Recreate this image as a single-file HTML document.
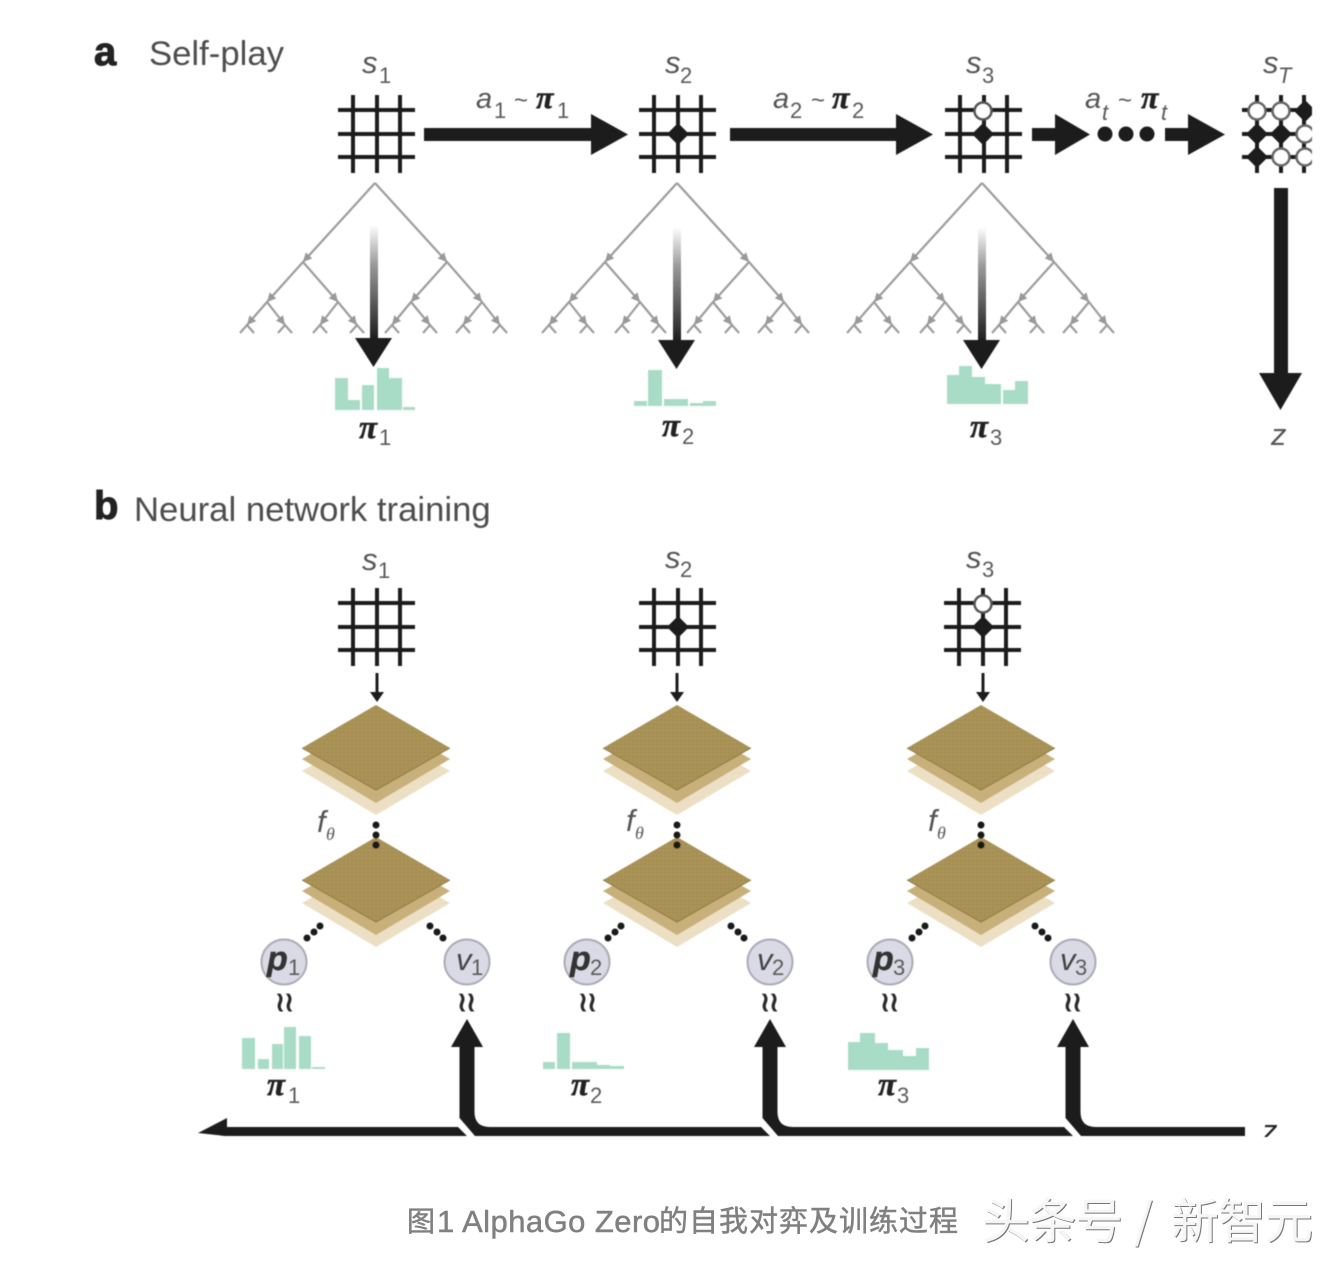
<!DOCTYPE html>
<html><head><meta charset="utf-8"><style>
html,body{margin:0;padding:0;background:#fff;width:1342px;height:1262px;overflow:hidden}
svg{display:block}
text{font-family:"Liberation Sans","Noto Sans CJK SC",sans-serif;fill:#555}
.i{font-style:italic;font-size:31px}
.sub{font-size:22px;fill:#5a5a5a}
.pi{font-family:"Liberation Serif",serif;font-style:italic;font-weight:bold;font-size:33px;fill:#222;stroke:#222;stroke-width:.5}
.h{font-size:40px;font-weight:bold;fill:#222;stroke:#222;stroke-width:1}
.t{font-size:34.7px;fill:#4d4d4d}
.p{font-style:italic;font-weight:bold;font-size:34px;fill:#333;stroke:#333;stroke-width:.4}
.v{font-style:italic;font-size:31px;fill:#444}
.w{font-family:"DejaVu Sans",sans-serif;font-size:27px;fill:#2a2a2a;stroke:#2a2a2a;stroke-width:1;text-anchor:middle}
.cap{font-size:31px;fill:#808080;stroke:#808080;stroke-width:.5}
.wm{font-size:48px;fill:#f6f6f6;filter:drop-shadow(1.2px 1.2px 0 #777);font-family:"WenQuanYi Zen Hei","Noto Sans CJK SC",sans-serif}
</style></head><body>
<svg width="1342" height="1262" viewBox="0 0 1342 1262" xmlns="http://www.w3.org/2000/svg">
<defs>
<linearGradient id="fade" x1="0" y1="0" x2="0" y2="1"><stop offset="0" stop-color="#fff"/><stop offset=".35" stop-color="#999"/><stop offset="1" stop-color="#1c1c1c"/></linearGradient>
<marker id="m" markerUnits="userSpaceOnUse" markerWidth="11" markerHeight="11" refX="9" refY="5.5" orient="auto"><path d="M0 1L9 5.5L0 10Z" fill="#999"/></marker>
<g id="board" stroke="#1c1c1c" stroke-width="4" fill="none">
<path d="M-24-39V39M0-39V39M23-39V39M-39-24H38M-39 0H38M-39 23H38"/>
</g>
<path id="blk" d="M-11 0L0-11L11 0L0 11Z" fill="#1c1c1c"/>
<g id="tree" stroke="#9c9c9c" stroke-width="2.2" fill="none">
<path d="M375 183L303 262" marker-end="url(#m)"/><path d="M375 183L447 262" marker-end="url(#m)"/>
<path d="M303 262L267 302" marker-end="url(#m)"/><path d="M303 262L338 302" marker-end="url(#m)"/>
<path d="M447 262L411 302" marker-end="url(#m)"/><path d="M447 262L482 302" marker-end="url(#m)"/>
<path d="M267 302L247 325" marker-end="url(#m)"/><path d="M267 302L285 325" marker-end="url(#m)"/>
<path d="M338 302L320 325" marker-end="url(#m)"/><path d="M338 302L357 325" marker-end="url(#m)"/>
<path d="M411 302L392 325" marker-end="url(#m)"/><path d="M411 302L430 325" marker-end="url(#m)"/>
<path d="M482 302L463 325" marker-end="url(#m)"/><path d="M482 302L500 325" marker-end="url(#m)"/>
<path d="M240 333L247 325L254 333M278 333L285 325L292 333M313 333L320 325L327 333M350 333L357 325L364 333M385 333L392 325L399 333M423 333L430 325L437 333M456 333L463 325L470 333M493 333L500 325L507 333"/>
</g>
<g id="bigdown">
<rect x="370" y="225" width="8" height="114" fill="url(#fade)"/>
<path d="M355 338H392L373.5 367Z" fill="#1c1c1c"/>
</g>
<pattern id="grid" width="4" height="4" patternUnits="userSpaceOnUse"><rect width="4" height="4" fill="#ab9458"/><path d="M0 0H4M0 0V4" stroke="#9d864c" stroke-width=".7"/></pattern>
<g id="stack">
<path d="M302 771L376 729L450 771L376 815Z" fill="#ecdfc4"/>
<path d="M302 759L376 717L450 759L376 803Z" fill="#c8b07a"/>
<path d="M302 748L376 705L450 748L376 790Z" fill="url(#grid)"/>
<path d="M302 748L376 790L450 748" fill="none" stroke="#8f7a42" stroke-width="1"/>
</g>
<g id="dots" fill="#1a1a1a">
<circle cx="376" cy="825" r="3.5"/><circle cx="376" cy="835" r="3.5"/><circle cx="376" cy="845" r="3.5"/>
<circle cx="320" cy="926" r="3.5"/><circle cx="314" cy="932" r="3.5"/><circle cx="307" cy="938" r="3.5"/>
<circle cx="430" cy="926" r="3.5"/><circle cx="437" cy="932" r="3.5"/><circle cx="443" cy="938" r="3.5"/>
</g>
<path id="smalldown" d="M375.5 673H378.5V692H384L377 702L370 692H375.5Z" fill="#1c1c1c"/>
<clipPath id="c1"><rect x="1230" y="80" width="82" height="110"/></clipPath>
<clipPath id="c2"><rect x="1250" y="1100" width="40" height="37"/></clipPath>
</defs>

<g style="filter:blur(.5px)">
<!-- Section a -->
<text class="h" x="94" y="65">a</text>
<text class="t" x="149" y="65">Self-play</text>

<text class="i" x="362" y="73">s</text><text class="sub" x="379" y="83">1</text>
<text class="i" x="665" y="73">s</text><text class="sub" x="680" y="83">2</text>
<text class="i" x="966" y="73">s</text><text class="sub" x="982" y="83">3</text>
<text class="i" x="1263" y="73">s</text><text class="sub" x="1278" y="83" font-style="italic">T</text>

<use href="#board" x="377" y="134"/>
<use href="#board" x="678" y="134"/>
<use href="#board" x="984" y="134"/>
<use href="#blk" x="678" y="134"/>
<circle cx="983" cy="111" r="8.5" fill="#fff" stroke="#555" stroke-width="2.5"/>
<use href="#blk" x="983" y="134"/>

<g clip-path="url(#c1)">
<use href="#board" x="1281" y="134"/>
<use href="#blk" x="1305" y="111"/><use href="#blk" x="1257" y="134"/><use href="#blk" x="1281" y="134"/><use href="#blk" x="1257" y="157"/>
<g fill="#fff" stroke="#666" stroke-width="2.5"><circle cx="1257" cy="111" r="8.5"/><circle cx="1281" cy="111" r="8.5"/><circle cx="1305" cy="134" r="8.5"/><circle cx="1281" cy="157" r="8.5"/><circle cx="1305" cy="157" r="8.5"/></g>
</g>

<!-- Big arrows -->
<g fill="#1c1c1c">
<path d="M424 128H591V114L628 134.5L591 155V141H424Z"/>
<path d="M730 128H896V114L933 134.5L896 155V141H730Z"/>
<path d="M1032 128H1055V114L1090 134.5L1055 155V141H1032Z"/>
<path d="M1165 128H1188V114L1225 134.5L1188 155V141H1165Z"/>
<circle cx="1105" cy="134" r="7.5"/><circle cx="1126" cy="134" r="7.5"/><circle cx="1147" cy="134" r="7.5"/>
<path d="M1274 188H1288V373H1302L1280.5 410L1259 373H1274Z"/>
</g>

<text class="i" x="476" y="108" style="font-size:29px">a</text><text class="sub" x="494" y="118">1</text><text x="514" y="108" style="font-size:24px">~</text><text class="pi" x="536" y="108" style="font-size:32px">π</text><text class="sub" x="557" y="118">1</text>
<text class="i" x="773" y="108" style="font-size:29px">a</text><text class="sub" x="790" y="118">2</text><text x="811" y="108" style="font-size:24px">~</text><text class="pi" x="832" y="108" style="font-size:32px">π</text><text class="sub" x="852" y="118">2</text>
<text class="i" x="1085" y="108" style="font-size:29px">a</text><text class="sub" x="1102" y="120" font-style="italic">t</text><text x="1118" y="108" style="font-size:24px">~</text><text class="pi" x="1141" y="108" style="font-size:32px">π</text><text class="sub" x="1161" y="120" font-style="italic">t</text>

<!-- Trees -->
<use href="#tree"/><use href="#tree" x="302"/><use href="#tree" x="607"/>
<use href="#bigdown"/><use href="#bigdown" x="303" y="2"/><use href="#bigdown" x="608" y="2"/>

<!-- Histograms -->
<g fill="#a9dcc6">
<path d="M335 378H348V410H335ZM348 400H360V410H348ZM362 385H374V410H362ZM377 368H389V410H377ZM389 378H402V410H389ZM403 407H415V410H403Z"/>
<path d="M634 401H647V406H634ZM648 370H662V406H648ZM664 399H676V406H664ZM676 399H688V406H676ZM690 403H703V406H690ZM703 401H716V406H703Z"/>
<path d="M947 375H959V404H947ZM959 366H972V404H959ZM972 377H985V404H972ZM985 384H1001V404H985ZM1003 390H1015V404H1003ZM1015 381H1028V404H1015Z"/>
<path d="M242 1038H255V1069H242ZM258 1059H269V1069H258ZM272 1044H283V1069H272ZM284 1027H296V1069H284ZM299 1036H311V1069H299ZM312 1067H325V1069H312Z"/>
<path d="M543 1062H555V1069H543ZM557 1033H570V1069H557ZM572 1062H585V1069H572ZM585 1062H597V1069H585ZM597 1065H610V1069H597ZM610 1066H624V1069H610Z"/>
<path d="M848 1042H860V1070H848ZM860 1033H875V1070H860ZM875 1043H888V1070H875ZM888 1050H903V1070H888ZM903 1056H916V1070H903ZM916 1048H929V1070H916Z"/>
</g>

<text class="pi" x="359" y="438">π</text><text class="sub" x="379" y="445">1</text>
<text class="pi" x="662" y="436">π</text><text class="sub" x="682" y="444">2</text>
<text class="pi" x="970" y="437">π</text><text class="sub" x="990" y="445">3</text>
<text class="i" x="1271" y="445">z</text>

<!-- Section b -->
<text class="h" x="94" y="519">b</text>
<text class="t" x="134" y="521">Neural network training</text>

<text class="i" x="362" y="570">s</text><text class="sub" x="378" y="578">1</text>
<text class="i" x="665" y="568">s</text><text class="sub" x="680" y="577">2</text>
<text class="i" x="966" y="568">s</text><text class="sub" x="982" y="577">3</text>

<use href="#board" x="377" y="627"/>
<use href="#board" x="678" y="627"/>
<use href="#board" x="983" y="627"/>
<use href="#blk" x="678" y="627"/>
<circle cx="983" cy="604" r="8.5" fill="#fff" stroke="#555" stroke-width="2.5"/>
<use href="#blk" x="983" y="627"/>

<use href="#smalldown"/><use href="#smalldown" x="300"/><use href="#smalldown" x="606"/>

<use href="#stack"/><use href="#stack" y="132"/>
<use href="#stack" x="301"/><use href="#stack" x="301" y="132"/>
<use href="#stack" x="605"/><use href="#stack" x="605" y="132"/>
<use href="#dots"/><use href="#dots" x="301"/><use href="#dots" x="605"/>

<text class="i" x="317" y="832">f</text><text class="sub" x="326" y="840" font-style="italic" style="font-size:18px;font-family:'Liberation Serif',serif">θ</text>
<text class="i" x="626" y="831">f</text><text class="sub" x="635" y="839" font-style="italic" style="font-size:18px;font-family:'Liberation Serif',serif">θ</text>
<text class="i" x="928" y="831">f</text><text class="sub" x="937" y="839" font-style="italic" style="font-size:18px;font-family:'Liberation Serif',serif">θ</text>

<g fill="#dadae6" stroke="#ababb5" stroke-width="2">
<circle cx="284" cy="962" r="22.5"/><circle cx="467" cy="962" r="22.5"/>
<circle cx="587" cy="962" r="22.5"/><circle cx="770" cy="962" r="22.5"/>
<circle cx="890" cy="962" r="22.5"/><circle cx="1073" cy="962" r="22.5"/>
</g>
<text class="p" x="267" y="970">p</text><text class="sub" x="288" y="975">1</text>
<text class="v" x="456" y="970">v</text><text class="sub" x="471" y="975">1</text>
<text class="p" x="570" y="970">p</text><text class="sub" x="590" y="975">2</text>
<text class="v" x="757" y="970">v</text><text class="sub" x="772" y="975">2</text>
<text class="p" x="873" y="970">p</text><text class="sub" x="893" y="975">3</text>
<text class="v" x="1060" y="970">v</text><text class="sub" x="1075" y="975">3</text>

<text class="w" x="280" y="1011">≀</text><text class="w" x="289" y="1011">≀</text>
<text class="w" x="462" y="1011">≀</text><text class="w" x="471" y="1011">≀</text>
<text class="w" x="583" y="1011">≀</text><text class="w" x="592" y="1011">≀</text>
<text class="w" x="765" y="1011">≀</text><text class="w" x="774" y="1011">≀</text>
<text class="w" x="885" y="1011">≀</text><text class="w" x="894" y="1011">≀</text>
<text class="w" x="1068" y="1011">≀</text><text class="w" x="1077" y="1011">≀</text>

<text class="pi" x="267" y="1095">π</text><text class="sub" x="288" y="1103">1</text>
<text class="pi" x="571" y="1095">π</text><text class="sub" x="590" y="1103">2</text>
<text class="pi" x="878" y="1095">π</text><text class="sub" x="897" y="1103">3</text>

<!-- Bottom arrows -->
<g fill="#1c1c1c">
<path d="M198 1133L227 1118V1127H458L467 1136H225Z"/>
<path d="M459.5 1047V1118L475 1136H770L761 1127H490Q474.5 1127 474.5 1112V1047H483L467 1019L451 1047Z"/>
<path d="M762.5 1047V1118L778 1136H1073L1064 1127H793Q777.5 1127 777.5 1112V1047H786L770 1019L754 1047Z"/>
<path d="M1065.5 1047V1118L1081 1136H1245V1127H1096Q1080.5 1127 1080.5 1112V1047H1089L1073 1019L1057 1047Z"/>
</g>
<g clip-path="url(#c2)"><text class="i" x="1262" y="1141" style="fill:#222">z</text></g>
</g>

<!-- Caption -->
<text class="cap" x="407" y="1231" style="font-size:28px">图</text>
<text class="cap" x="437" y="1232" style="letter-spacing:.45px">1 AlphaGo Zero</text>
<text class="cap" x="659" y="1231" textLength="299" style="font-size:29px">的自我对弈及训练过程</text>
<text class="wm" x="982" y="1238" textLength="141">头条号</text>
<text class="wm" x="1134" y="1238">/</text>
<text class="wm" x="1171" y="1238" textLength="142">新智元</text>
</svg>
</body></html>
